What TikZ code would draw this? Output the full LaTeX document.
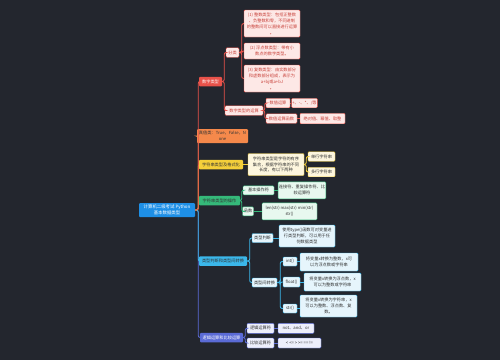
\documentclass[tikz,border=0pt]{standalone}
\usepackage{fontspec}
\setmainfont{Noto Sans CJK SC}
\definecolor{bg}{HTML}{23262E}
\definecolor{croot}{HTML}{1E8FE6}
\definecolor{ca}{HTML}{E8524A}\definecolor{cal}{HTML}{FDE8E6}\definecolor{cat}{HTML}{C8413A}
\definecolor{cb}{HTML}{F5894B}
\definecolor{cc}{HTML}{F4CF3A}\definecolor{ccl}{HTML}{FDF6DE}
\definecolor{cd}{HTML}{35B97A}\definecolor{cdl}{HTML}{E8F8EF}
\definecolor{ce}{HTML}{3BB7EA}\definecolor{cel}{HTML}{E6F5FC}
\definecolor{cf}{HTML}{5B6BD6}\definecolor{cfl}{HTML}{EDEFFB}
\definecolor{dtext}{HTML}{333333}
\tikzset{
  box/.style={font=\fontsize{4.2}{5.9}\selectfont, inner sep=0.8pt, rounded corners=1pt, align=center, minimum height=9.5},
  rootbox/.style={box, fill=croot, text=white, font=\fontsize{4.4}{6}\selectfont},
  lva/.style={box, fill=ca, text=white},
  lvb/.style={box, fill=cb, text=dtext},
  lvc/.style={box, fill=cc, text=dtext},
  lvd/.style={box, fill=cd, text=dtext},
  lve/.style={box, fill=ce, text=dtext},
  lvf/.style={box, fill=cf, text=white},
  sa/.style={box, fill=cal, draw=ca, line width=0.4pt, text=cat},
  sc/.style={box, fill=ccl, draw=cc, line width=0.4pt, text=dtext},
  sd/.style={box, fill=cdl, draw=cd, line width=0.4pt, text=dtext},
  se/.style={box, fill=cel, draw=ce, line width=0.4pt, text=dtext},
  sf/.style={box, fill=cfl, draw=cf, line width=0.4pt, text=dtext},
  link/.style={line width=0.9pt, rounded corners=2pt},
}
\newcommand{\conn}[4]{\draw[link,#1] (#2.east) -- ++(#3,0) |- (#4.west);}
\newcommand{\straight}[3]{\draw[link,#1] (#2.east) -- (#2.east -| #3.west);}
\begin{document}
\begin{tikzpicture}[x=1pt,y=-1pt]
\fill[bg] (0,0) rectangle (500,360);
\useasboundingbox (0,0) rectangle (500,360);

% root and branches
\node[rootbox, minimum width=56, minimum height=14] (root) at (167,210) {计算机二级考试 Python\\基本数据类型};
\node[lva, minimum width=23] (n1) at (210.5,81.5) {数字类型};
\node[lvb, minimum width=51, minimum height=14] (n2) at (222.5,136) {真值类：True，False，N\\one};
\node[lvc, minimum width=44] (n3) at (221,164.5) {字符串类型及格式化};
\node[lvd, minimum width=41] (n4) at (219.5,200.5) {字符串类型的操作};
\node[lve, minimum width=48] (n5) at (223,261) {类型判断和类型间转换};
\node[lvf, minimum width=43] (n6) at (221.5,337.5) {逻辑运算和比较运算};

% branch 1
\node[sa, minimum width=13] (n11) at (232.5,52.5) {分类};
\node[sa, minimum width=38] (n12) at (244,110.5) {数字类型的运算};
\node[sa, minimum width=56, minimum height=27] (n111) at (272,23.5) {(1) 整数类型：包括正整数\\、负整数和零，不同进制\\的整数间可以直接进行运算\\。};
\node[sa, minimum width=56, minimum height=16] (n112) at (272,51) {(2) 浮点数类型：带有小\\数点的数字类型。};
\node[sa, minimum width=56, minimum height=27] (n113) at (272,78.5) {(3) 复数类型：由实数部分\\和虚数部分组成，表示为\\a+bj或a+bJ\\。};
\node[sa, minimum width=24] (n121) at (278,103) {数值运算};
\node[sa, minimum width=24] (n1211) at (304.5,103) {+、-、*、/等};
\node[sa, minimum width=31] (n122) at (281.5,118.5) {数值运算函数};
\node[sa, minimum width=45, minimum height=10.5] (n1221) at (322.5,118.5) {绝对值、幂值、取整};

% branch 3
\node[sc, minimum width=56, minimum height=22] (n31) at (276,164.5) {字符串类型是字符的有序\\集合，根据字符串的不同\\长度，有以下两种};
\node[sc, minimum width=27] (n311) at (321.5,156.5) {单行字符串};
\node[sc, minimum width=27] (n312) at (321.5,172) {多行字符串};

% branch 4
\node[sd, minimum width=31, minimum height=9] (n41) at (258.5,190.3) {基本操作符};
\node[sd, minimum width=46, minimum height=17] (n411) at (302,190.3) {连接符、重复操作符、比\\较运算符};
\node[sd, minimum width=11, minimum height=9] (n42) at (248,211.3) {函数};
\node[sd, minimum width=55, minimum height=17] (n421) at (289.5,211.3) {len(str) max(str) min(str)\\str()};

% branch 5
\node[se, minimum width=21, minimum height=9] (n51) at (262.5,238) {类型判断};
\node[se, minimum width=56, minimum height=22] (n511) at (307,236) {使用type()函数可对变量进\\行类型判断，可以用于任\\何数据类型};
\node[se, minimum width=25, minimum height=9] (n52) at (264.5,282.5) {类型间转换};
\node[se, minimum width=14, minimum height=9] (n521) at (290,261.5) {int()};
\node[se, minimum width=58, minimum height=18] (n5211) at (329,262) {将变量x转换为整数，x可\\以为浮点数或字符串};
\node[se, minimum width=17, minimum height=10] (n522) at (291.5,282) {float()};
\node[se, minimum width=57, minimum height=18] (n5221) at (332.5,282) {将变量x转换为浮点数，x\\可以为整数或字符串};
\node[se, minimum width=14, minimum height=9] (n523) at (290,308.5) {str()};
\node[se, minimum width=57, minimum height=22] (n5231) at (328.5,306) {将变量x转换为字符串，x\\可以为整数、浮点数、复\\数。};

% branch 6
\node[sf, minimum width=27, minimum height=10] (n61) at (260.5,328.3) {逻辑运算符};
\node[sf, minimum width=36, minimum height=10] (n611) at (296,328.3) {not、and、or};
\node[sf, minimum width=27, minimum height=10] (n62) at (260.5,343) {比较运算符};
\node[sf, minimum width=43, minimum height=10] (n621) at (299.5,343) {< <= > >= == !=};

% connectors from root (drawn bottom-up so upper colours stay on top)
\conn{cf}{root}{3}{n6}
\conn{ce}{root}{3}{n5}
\conn{cd}{root}{3}{n4}
\conn{cc}{root}{3}{n3}
\conn{cb}{root}{3}{n2}
\conn{ca}{root}{3}{n1}

% branch 1 connectors
\conn{ca}{n1}{2}{n11}
\conn{ca}{n1}{2}{n12}
\conn{ca}{n11}{2.5}{n111}
\conn{ca}{n11}{2.5}{n112}
\conn{ca}{n11}{2.5}{n113}
\conn{ca}{n12}{1.5}{n121}
\conn{ca}{n12}{1.5}{n122}
\straight{ca}{n121}{n1211}
\straight{ca}{n122}{n1221}

% branch 3
\straight{cc}{n3}{n31}
\conn{cc}{n31}{2}{n311}
\conn{cc}{n31}{2}{n312}

% branch 4
\conn{cd}{n4}{1.5}{n41}
\conn{cd}{n4}{1.5}{n42}
\straight{cd}{n41}{n411}
\straight{cd}{n42}{n421}

% branch 5
\conn{ce}{n5}{2.5}{n51}
\conn{ce}{n5}{2.5}{n52}
\straight{ce}{n51}{n511}
\conn{ce}{n52}{3}{n521}
\conn{ce}{n52}{3}{n522}
\conn{ce}{n52}{3}{n523}
\straight{ce}{n521}{n5211}
\straight{ce}{n522}{n5221}
\straight{ce}{n523}{n5231}

% branch 6
\conn{cf}{n6}{2}{n61}
\conn{cf}{n6}{2}{n62}
\straight{cf}{n61}{n611}
\straight{cf}{n62}{n621}
\end{tikzpicture}
\end{document}
